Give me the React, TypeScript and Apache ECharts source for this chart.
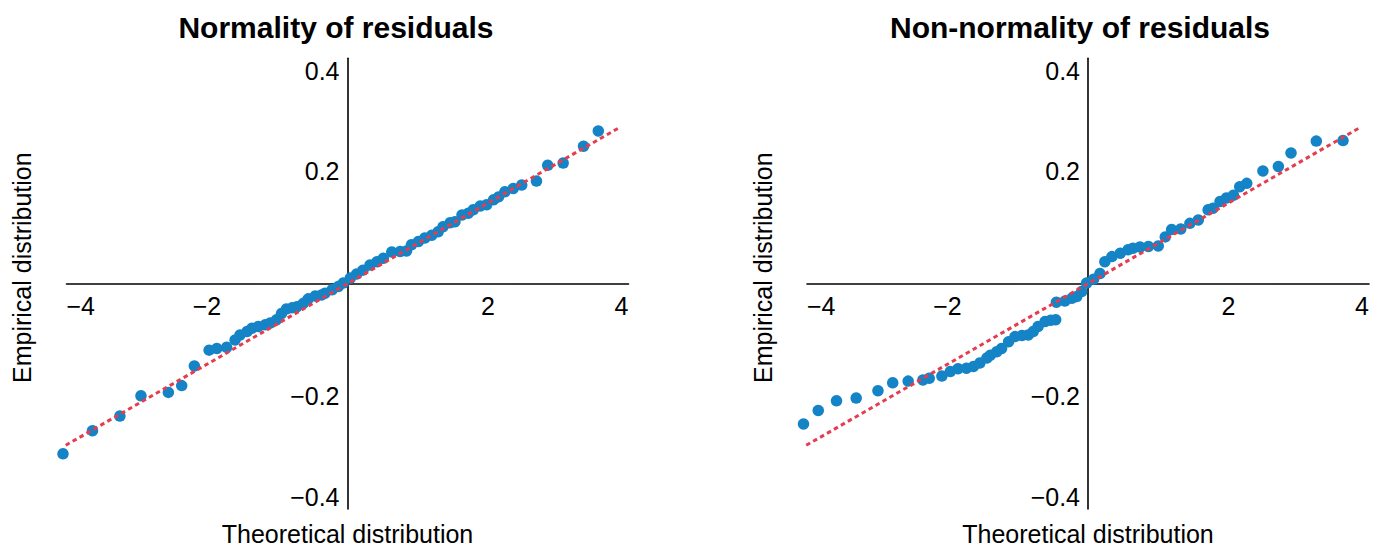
import React, { useEffect, useRef } from "react";
import * as echarts from "echarts";

// ---- data ----
const titles = ["Normality of residuals", "Non-normality of residuals"];
const xTicks = [-4, -2, 0, 2, 4];
const yTicks = [-0.4, -0.2, 0, 0.2, 0.4];

const leftX = [-4.05, -3.63, -3.24, -2.94, -2.55, -2.36, -2.18, -1.97, -1.86, -1.72, -1.6, -1.53, -1.43, -1.36, -1.27, -1.17, -1.1, -1.01, -0.94, -0.87, -0.79, -0.72, -0.63, -0.56, -0.46, -0.37, -0.32, -0.22, -0.13, -0.06, 0.04, 0.13, 0.22, 0.32, 0.42, 0.51, 0.63, 0.75, 0.84, 0.91, 1.01, 1.1, 1.2, 1.29, 1.36, 1.46, 1.53, 1.63, 1.72, 1.79, 1.89, 1.98, 2.08, 2.15, 2.24, 2.36, 2.48, 2.69, 2.85, 3.07, 3.36, 3.57];
const leftY = [-0.302, -0.261, -0.235, -0.199, -0.193, -0.181, -0.146, -0.118, -0.115, -0.113, -0.1, -0.091, -0.085, -0.079, -0.076, -0.073, -0.07, -0.064, -0.053, -0.045, -0.043, -0.041, -0.035, -0.027, -0.022, -0.02, -0.017, -0.011, -0.005, 0.001, 0.01, 0.017, 0.024, 0.033, 0.039, 0.045, 0.056, 0.057, 0.058, 0.069, 0.075, 0.081, 0.086, 0.092, 0.101, 0.108, 0.11, 0.122, 0.125, 0.131, 0.138, 0.14, 0.149, 0.154, 0.163, 0.169, 0.175, 0.182, 0.21, 0.214, 0.244, 0.271];

const rightX = [-4.05, -3.84, -3.58, -3.3, -2.99, -2.78, -2.56, -2.35, -2.26, -2.08, -1.96, -1.85, -1.73, -1.63, -1.54, -1.44, -1.39, -1.3, -1.23, -1.13, -1.04, -0.94, -0.85, -0.78, -0.71, -0.61, -0.53, -0.46, -0.45, -0.33, -0.23, -0.16, -0.09, -0.02, 0.08, 0.17, 0.24, 0.34, 0.46, 0.57, 0.64, 0.74, 0.86, 1.0, 1.1, 1.19, 1.32, 1.45, 1.57, 1.71, 1.78, 1.88, 1.97, 2.07, 2.16, 2.26, 2.49, 2.71, 2.89, 3.25, 3.63];
const rightY = [-0.249, -0.225, -0.208, -0.203, -0.19, -0.176, -0.173, -0.171, -0.168, -0.164, -0.156, -0.151, -0.15, -0.147, -0.141, -0.132, -0.127, -0.121, -0.115, -0.103, -0.094, -0.092, -0.091, -0.085, -0.076, -0.067, -0.065, -0.064, -0.033, -0.031, -0.026, -0.023, -0.014, 0.001, 0.008, 0.018, 0.039, 0.048, 0.054, 0.06, 0.063, 0.065, 0.066, 0.067, 0.083, 0.096, 0.097, 0.107, 0.113, 0.131, 0.134, 0.146, 0.152, 0.157, 0.172, 0.178, 0.2, 0.208, 0.232, 0.253, 0.254];

const refLineX = [-4.11, 3.87];
const refLineY = [-0.294, 0.277];

const FONT = "'Liberation Sans', Arial, sans-serif";
const MINUS = "\u2212";

function pairs(xs: number[], ys: number[]) {
  return xs.map((x, i) => [x, ys[i]]);
}

function fmtX(v: number) {
  if (Math.abs(v) < 1e-9) return "";
  return (v < 0 ? MINUS : "") + Math.abs(v).toFixed(0);
}
function fmtY(v: number) {
  if (Math.abs(v) < 1e-9) return "";
  return (v < 0 ? MINUS : "") + Math.abs(v).toFixed(1);
}

export default function App() {
  const ref = useRef<HTMLDivElement>(null);
  useEffect(() => {
    if (!ref.current) return;
    const chart = echarts.init(ref.current, undefined, { renderer: "svg" });
    const gridLefts = [66.5, 807];
    const titleCenters = [336, 1080];
    const GW = 562;
    const GH = 450.7;
    const grids = gridLefts.map((l) => ({
      left: l,
      top: 58.3,
      width: GW,
      height: GH,
      containLabel: false,
      outerBoundsMode: "none",
    }));
    const axisLine = { onZero: false, lineStyle: { color: "#000", width: 1.6 } };
    // axes cross at the centre of each symmetric range, so shift each by half the grid
    const xAxes = grids.map((_, i) => ({
      type: "value",
      gridIndex: i,
      position: "bottom",
      offset: -GH / 2,
      min: xTicks[0],
      max: xTicks[xTicks.length - 1],
      interval: 2,
      axisLine,
      axisTick: { show: false },
      splitLine: { show: false },
      axisLabel: {
        formatter: fmtX,
        fontSize: 25,
        fontFamily: FONT,
        color: "#000",
        margin: 10,
        alignMinLabel: "left",
        alignMaxLabel: "right",
      },
      name: "Theoretical distribution",
      nameLocation: "middle",
      nameGap: 238,
      nameTextStyle: { fontSize: 25, fontFamily: FONT, color: "#000" },
    }));
    const yAxes = grids.map((_, i) => ({
      type: "value",
      gridIndex: i,
      position: "left",
      offset: -GW / 2,
      min: yTicks[0],
      max: yTicks[yTicks.length - 1],
      interval: 0.2,
      axisLine,
      axisTick: { show: false },
      splitLine: { show: false },
      axisLabel: {
        formatter: fmtY,
        fontSize: 25,
        fontFamily: FONT,
        color: "#000",
        margin: 8,
        verticalAlignMinLabel: "bottom",
        verticalAlignMaxLabel: "top",
      },
      name: "Empirical distribution",
      nameLocation: "middle",
      nameGap: 313,
      nameTextStyle: { fontSize: 25, fontFamily: FONT, color: "#000", padding: [0, 0, 0, 32] },
    }));
    const datasets = [pairs(leftX, leftY), pairs(rightX, rightY)];
    const series: any[] = [];
    datasets.forEach((d, i) => {
      series.push({
        type: "scatter",
        xAxisIndex: i,
        yAxisIndex: i,
        data: d,
        symbolSize: 11.5,
        clip: false,
        itemStyle: { color: "#1584c6", opacity: 1 },
        z: 2,
      });
      series.push({
        type: "line",
        xAxisIndex: i,
        yAxisIndex: i,
        data: pairs(refLineX, refLineY),
        showSymbol: false,
        clip: false,
        lineStyle: { color: "#e63c50", width: 3, type: [4.5, 3.5] },
        z: 3,
      });
    });
    chart.setOption({
      animation: false,
      backgroundColor: "#fff",
      title: titles.map((t, i) => ({
        text: t,
        left: titleCenters[i],
        top: 12,
        padding: 0,
        textAlign: "center",
        textStyle: { fontSize: 30, fontWeight: "bold", fontFamily: FONT, color: "#000" },
      })),
      grid: grids,
      xAxis: xAxes,
      yAxis: yAxes,
      series,
    });
    return () => chart.dispose();
  }, []);
  return (
    <div
      ref={ref}
      style={{ position: "fixed", left: 0, top: 0, width: 1385, height: 549, background: "#fff" }}
    />
  );
}
